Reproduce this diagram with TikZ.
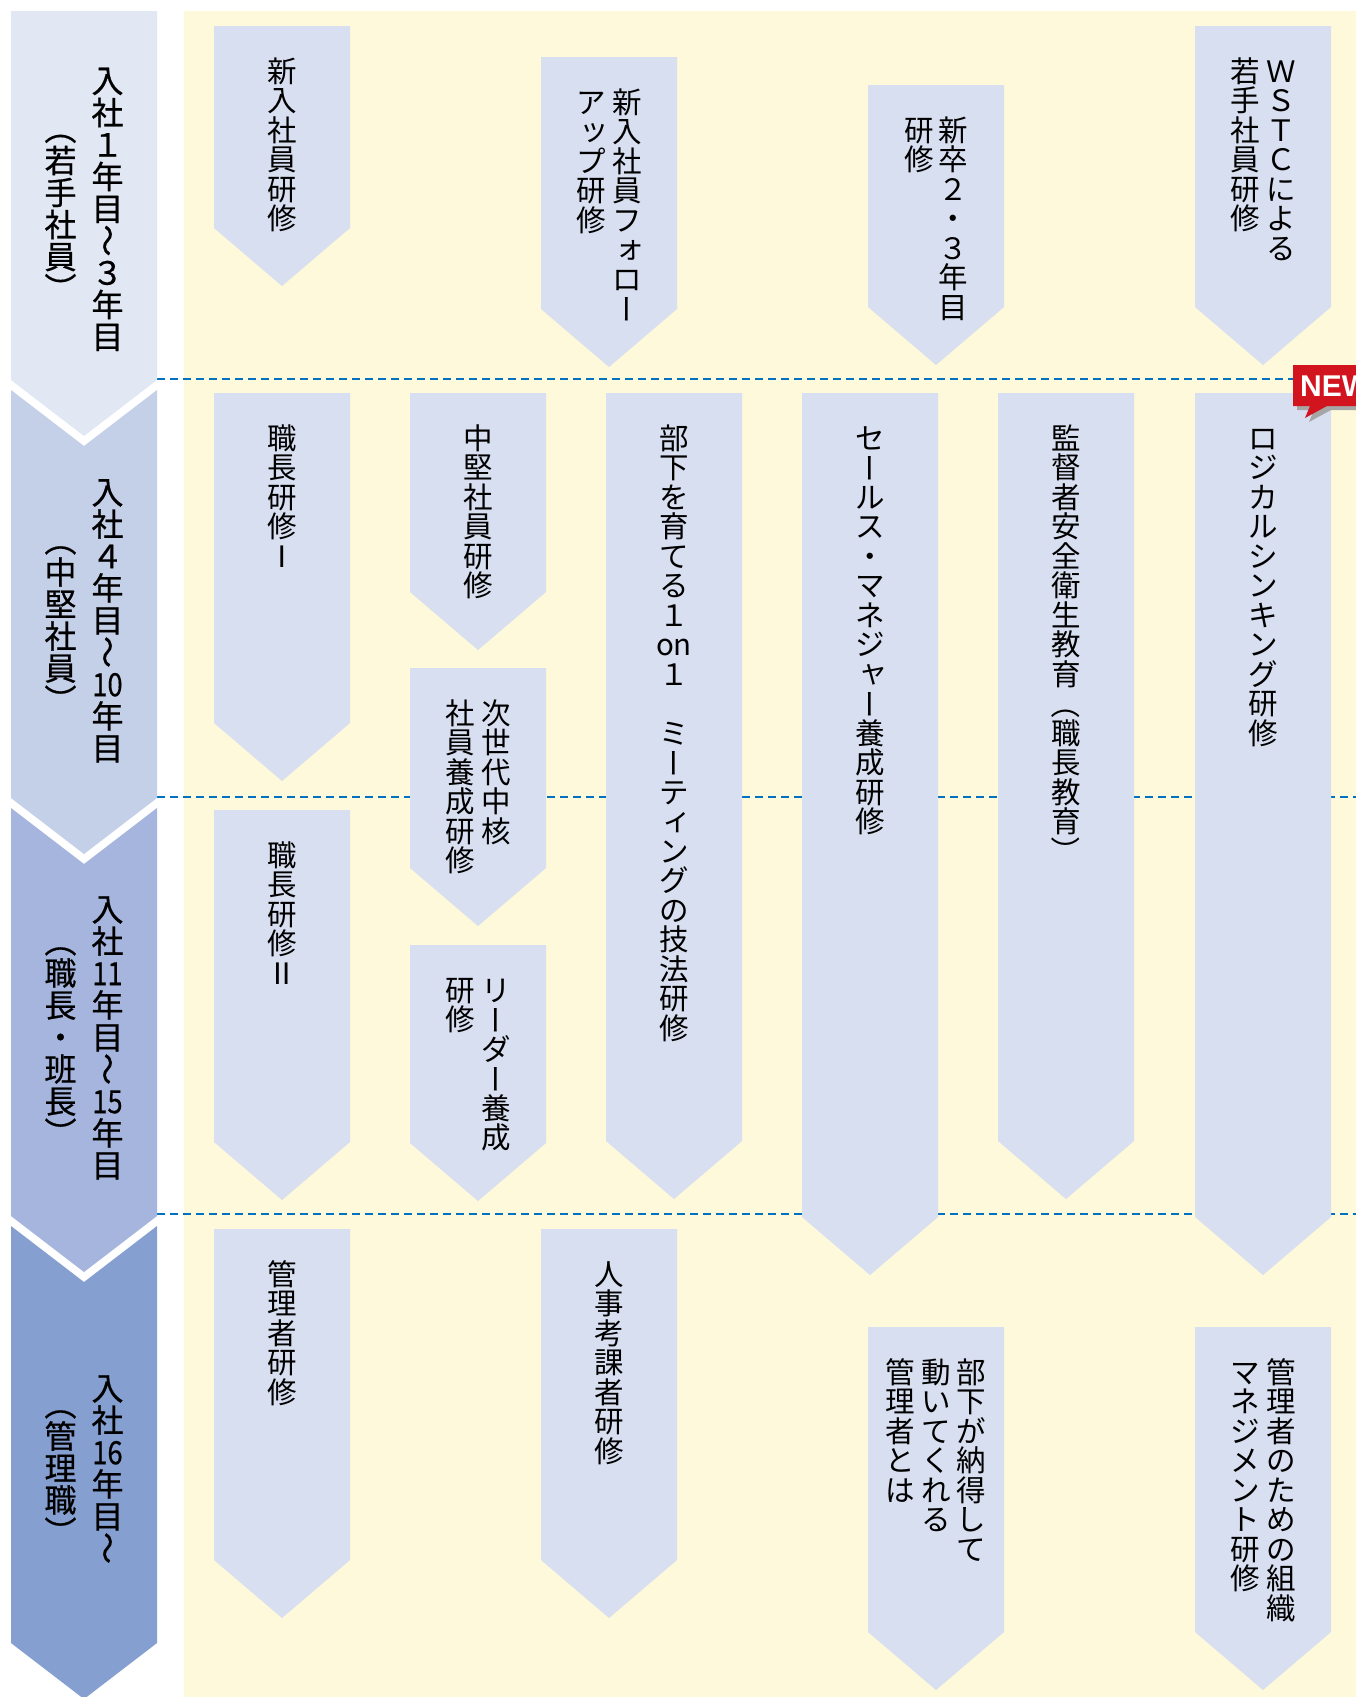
\documentclass[tikz,border=0pt]{standalone}
\usepackage{fontspec}
\usepackage{graphicx}
\setmainfont{Liberation Sans}
\newfontfamily\jp{Noto Sans CJK JP}
\newfontfamily\jpb[FakeBold=0.6]{Noto Sans CJK JP}
\makeatletter
\def\vst@end{\vst@end}
\def\vst@mark{\vst@end}
\def\vst@loop#1{\def\vst@tmp{#1}\ifx\vst@tmp\vst@mark\else\vchar{#1}\expandafter\vst@loop\fi}
\newcommand\vchar[1]{\hbox to1em{\vrule height.88em depth.12em width0pt\hss
  \ifcsname vsp@\detokenize{#1}\endcsname\csname vsp@\detokenize{#1}\endcsname\else#1\fi\hss}}
\newcommand\vstack[1]{\vbox{\offinterlineskip\vst@loop#1\vst@end}}
\newcommand\vspdef[2]{\expandafter\def\csname vsp@\detokenize{#1}\endcsname{#2}}
\makeatother
\newcommand\vrot[1]{\rotatebox[origin=c]{-90}{\vrule height.88em depth.12em width0pt\makebox[1em]{#1}}}
\newcommand\smk[1]{\raisebox{0.1em}[0pt][0pt]{\makebox[1em][l]{\hspace{0.1em}#1}}}
\vspdef{ー}{\vrot{ー}}
\vspdef{（}{\vrot{（}}
\vspdef{）}{\vrot{）}}
\vspdef{〜}{\vrot{〜}}
\vspdef{ッ}{\smk{ッ}}
\vspdef{ォ}{\smk{ォ}}
\vspdef{ャ}{\smk{ャ}}
\vspdef{ィ}{\smk{ィ}}
\vspdef{10}{\scalebox{.85}[1]{10}}
\vspdef{11}{\scalebox{.85}[1]{11}}
\vspdef{15}{\scalebox{.85}[1]{15}}
\vspdef{16}{\scalebox{.85}[1]{16}}
\definecolor{bgyel}{HTML}{FDF9DA}
\definecolor{boxc}{HTML}{D8DFF0}
\definecolor{bandA}{HTML}{E1E7F3}
\definecolor{bandB}{HTML}{C4CFE8}
\definecolor{bandC}{HTML}{A5B5DD}
\definecolor{bandD}{HTML}{849FD0}
\definecolor{dashc}{HTML}{0070C0}
\definecolor{newred}{HTML}{D2141E}
\newcommand\boxfont{\jp\fontsize{29.5}{29.5}\selectfont}
\newcommand\bandfont{\jpb\fontsize{32}{32}\selectfont}
\tikzset{
  chevfill/.style={fill=boxc},
  vcol/.style={inner sep=0pt, outer sep=0pt, anchor=north, font=\boxfont},
  bcol/.style={inner sep=0pt, outer sep=0pt, anchor=center, font=\bandfont},
  sepline/.style={draw=dashc, line width=2.6pt, dash pattern=on 8pt off 5pt},
}
\newcommand\chevbox[4]{%
  \fill[chevfill] (#2,#3) -- ({#2+136},#3) -- ({#2+136},{#4-58}) -- ({#2+68},#4) -- (#2,{#4-58}) -- cycle;
  \coordinate (#1) at ({#2+68},{#3+30.5});}
\begin{document}
\begin{tikzpicture}[x=1pt,y=-1pt]
\useasboundingbox (0,0) rectangle (1356,1697);
\clip (0,0) rectangle (1356,1697);
\fill[white] (0,0) rectangle (1356,1697);
% background
\fill[bgyel] (184,11) rectangle (1356,1697);
% separator lines
\coordinate (s1a) at (157,379); \coordinate (s1b) at (1356,379);
\coordinate (s2a) at (157,797); \coordinate (s2b) at (1356,797);
\coordinate (s3a) at (157,1214); \coordinate (s3b) at (1356,1214);
\draw[sepline] (s1a) -- (s1b);
\draw[sepline] (s2a) -- (s2b);
\draw[sepline] (s3a) -- (s3b);
% left band
\fill[bandA] (11,11) -- (157,11) -- (157,380) -- (84,436) -- (11,380) -- cycle;
\fill[bandB] (11,390) -- (84,446) -- (157,390) -- (157,798) -- (84,854) -- (11,798) -- cycle;
\fill[bandC] (11,808) -- (84,864) -- (157,808) -- (157,1216) -- (84,1272) -- (11,1216) -- cycle;
\fill[bandD] (11,1226) -- (84,1282) -- (157,1226) -- (157,1643) -- (84,1699) -- (11,1643) -- cycle;
\node[bcol] (L1a) at (107.5,208.5) {\vstack{入社１年目〜３年目}};
\node[bcol] (L1b) at (60.5,208.5) {\vstack{（若手社員）}};
\node[bcol] (L2a) at (107.5,620) {\vstack{入社４年目〜{10}年目}};
\node[bcol] (L2b) at (60.5,620) {\vstack{（中堅社員）}};
\node[bcol] (L3a) at (107.5,1037) {\vstack{入社{11}年目〜{15}年目}};
\node[bcol] (L3b) at (60.5,1037) {\vstack{（職長・班長）}};
\node[bcol] (L4a) at (107.5,1468) {\vstack{入社{16}年目〜}};
\node[bcol] (L4b) at (60.5,1468) {\vstack{（管理職）}};
% boxes
\chevbox{b1}{214}{26}{286}
\chevbox{b2}{541}{57}{367}
\chevbox{b3}{868}{85}{365}
\chevbox{b4}{1195}{26}{365}
\chevbox{b5}{214}{393}{781}
\chevbox{b6}{410}{393}{650}
\chevbox{b7}{410}{668}{926}
\chevbox{b8}{410}{945}{1201}
\chevbox{b9}{606}{393}{1199}
\chevbox{b10}{802}{393}{1275}
\chevbox{b11}{998}{393}{1199}
\chevbox{b12}{1195}{393}{1275}
\chevbox{b13}{214}{810}{1200}
\chevbox{b14}{214}{1229}{1618}
\chevbox{b15}{541}{1229}{1618}
\chevbox{b16}{868}{1327}{1690}
\chevbox{b17}{1195}{1327}{1690}
\node[vcol] (t1) at (b1) {\vstack{新入社員研修}};
\node[vcol] (t2a) at ([xshift=18pt]b2) {\vstack{新入社員フォロー}};
\node[vcol] (t2b) at ([xshift=-18pt]b2) {\vstack{アップ研修}};
\node[vcol] (t3a) at ([xshift=17pt]b3) {\vstack{新卒２・３年目}};
\node[vcol] (t3b) at ([xshift=-17pt]b3) {\vstack{研修}};
\node[vcol] (t4a) at ([xshift=18pt]b4) {\vstack{ＷＳＴＣによる}};
\node[vcol] (t4b) at ([xshift=-18pt]b4) {\vstack{若手社員研修}};
\node[vcol] (t5) at (b5) {\vstack{職長研修Ⅰ}};
\node[vcol] (t6) at (b6) {\vstack{中堅社員研修}};
\node[vcol] (t7a) at ([xshift=18pt]b7) {\vstack{次世代中核}};
\node[vcol] (t7b) at ([xshift=-18pt]b7) {\vstack{社員養成研修}};
\node[vcol] (t8a) at ([xshift=18pt]b8) {\vstack{リーダー養成}};
\node[vcol] (t8b) at ([xshift=-18pt]b8) {\vstack{研修}};
\node[vcol] (t9) at (b9) {\vstack{部下を育てる１{on}１　ミーティングの技法研修}};
\node[vcol] (t10) at (b10) {\vstack{セールス・マネジャー養成研修}};
\node[vcol] (t11) at (b11) {\vstack{監督者安全衛生教育（職長教育）}};
\node[vcol] (t12) at (b12) {\vstack{ロジカルシンキング研修}};
\node[vcol] (t13) at (b13) {\vstack{職長研修Ⅱ}};
\node[vcol] (t14) at (b14) {\vstack{管理者研修}};
\node[vcol] (t15) at (b15) {\vstack{人事考課者研修}};
\node[vcol] (t16a) at ([xshift=35.5pt]b16) {\vstack{部下が納得して}};
\node[vcol] (t16b) at (b16) {\vstack{動いてくれる}};
\node[vcol] (t16c) at ([xshift=-35.5pt]b16) {\vstack{管理者とは}};
\node[vcol] (t17a) at ([xshift=18pt]b17) {\vstack{管理者のための組織}};
\node[vcol] (t17b) at ([xshift=-18pt]b17) {\vstack{マネジメント研修}};
% NEW badge
\fill[gray!70] (1297,369) -- (1360,369) -- (1360,410) -- (1331,410) -- (1309,422) -- (1314,410) -- (1297,410) -- cycle;
\fill[newred] (1293,365) -- (1356,365) -- (1356,406) -- (1327,406) -- (1305,418) -- (1310,406) -- (1293,406) -- cycle;
\node[anchor=west, inner sep=0pt, text=white, font=\fontsize{30}{30}\selectfont\bfseries] (new) at (1300,386) {NEW};
\end{tikzpicture}
\end{document}
